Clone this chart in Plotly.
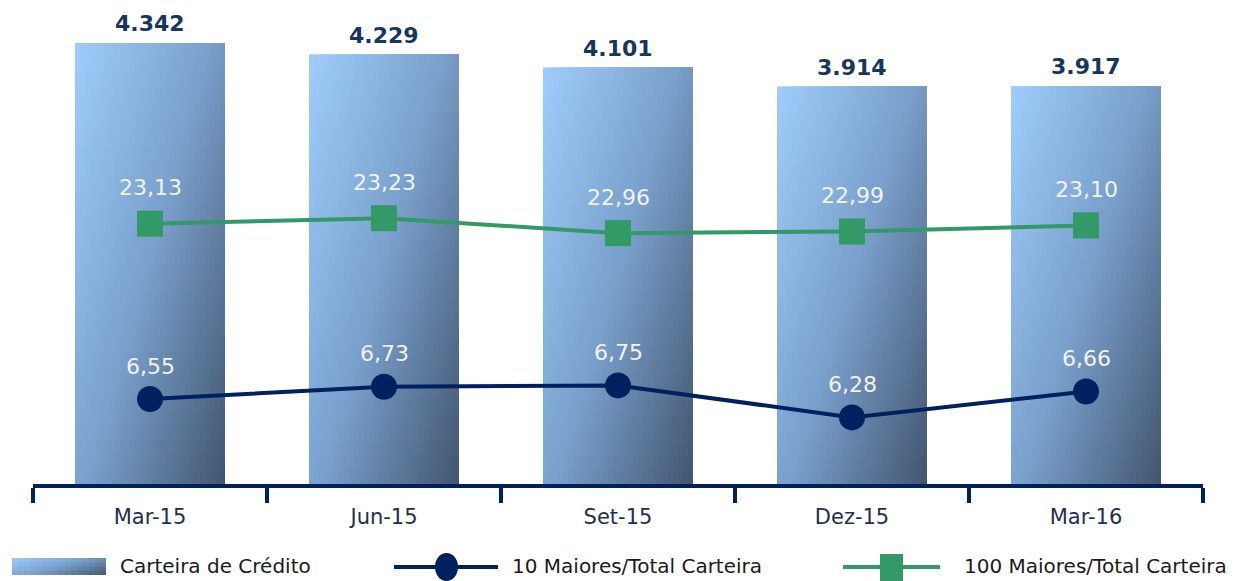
import plotly.graph_objects as go

# ---------------- data ----------------
categories = ["Mar-15", "Jun-15", "Set-15", "Dez-15", "Mar-16"]
carteira = [4342, 4229, 4101, 3914, 3917]
maiores10 = [6.55, 6.73, 6.75, 6.28, 6.66]
maiores100 = [23.13, 23.23, 22.96, 22.99, 23.10]
series_names = ["Carteira de Crédito", "10 Maiores/Total Carteira", "100 Maiores/Total Carteira"]

# ---------------- styles ----------------
W_PX, H_PX = 1236, 581
FONT = "DejaVu Sans"
NAVY = "#002060"
GREEN = "#339966"
LABEL_NAVY = "#17365D"
BAR_W = 0.641
NX, NY = 30, 30
STOPS = [(0.0, (0x9F, 0xCD, 0xFB)), (0.5, (0x79, 0x9F, 0xCB)), (1.0, (0x42, 0x55, 0x6F))]


def grad(u):
    u = max(0.0, min(1.0, u))
    for (u0, c0), (u1, c1) in zip(STOPS[:-1], STOPS[1:]):
        if u <= u1:
            t = (u - u0) / (u1 - u0)
            return "rgb(%d,%d,%d)" % tuple(round(a + (b - a) * t) for a, b in zip(c0, c1))
    return "rgb(%d,%d,%d)" % STOPS[-1][1]


def px_x(p):
    return p / W_PX


def px_y(p):
    return 1 - p / H_PX


fig = go.Figure()

# base bar trace (actual values)
fig.add_trace(go.Bar(
    x=categories, y=carteira, name=series_names[0], width=BAR_W,
    marker=dict(color="#799FCB", line=dict(width=0)), showlegend=False,
    hovertemplate="%{x}: %{y:,.0f}<extra></extra>",
))

# gradient overlay built from the same values: nested cells, each covering
# from its own left edge to the bar's right edge and from 0 to its own top,
# drawn so that later cells cover the earlier ones (no seams).
gx, gy, goff, gw, gc = [], [], [], [], []
for cat, v in zip(categories, carteira):
    for cx in range(NX):
        for cy in range(NY):  # cy = 0 is the top row (tallest cell)
            off = -BAR_W / 2 + cx * BAR_W / NX
            gx.append(cat)
            gy.append(v * (NY - cy) / NY)
            goff.append(off)
            gw.append(BAR_W / 2 - off)
            gc.append(grad(0.55 * (cx + 0.5) / NX + 0.45 * (cy + 0.5) / NY))
fig.add_trace(go.Bar(
    x=gx, y=gy, offset=goff, width=gw,
    marker=dict(color=gc, line=dict(width=0)),
    showlegend=False, hoverinfo="skip",
))

fig.add_trace(go.Scatter(
    x=categories, y=maiores100, yaxis="y2", mode="lines+markers", name=series_names[2],
    line=dict(color=GREEN, width=4), marker=dict(symbol="square", size=26, color=GREEN),
    showlegend=False,
))
fig.add_trace(go.Scatter(
    x=categories, y=maiores10, yaxis="y3", mode="lines+markers", name=series_names[1],
    line=dict(color=NAVY, width=4), marker=dict(symbol="circle", size=26, color=NAVY),
    showlegend=False,
))

annotations = []
for cat, v in zip(categories, carteira):
    annotations.append(dict(
        x=cat, y=v, xref="x", yref="y", text=f"{v:,}".replace(",", "."),
        showarrow=False, yanchor="bottom", yshift=5,
        font=dict(family=FONT, size=22, color=LABEL_NAVY, weight="bold"),
    ))
for cat, v in zip(categories, maiores100):
    annotations.append(dict(
        x=cat, y=v, xref="x", yref="y2", text=f"{v:.2f}".replace(".", ","),
        showarrow=False, yanchor="middle", yshift=36,
        font=dict(family=FONT, size=22, color="#F2F2F2"),
    ))
for cat, v in zip(categories, maiores10):
    annotations.append(dict(
        x=cat, y=v, xref="x", yref="y3", text=f"{v:.2f}".replace(".", ","),
        showarrow=False, yanchor="middle", yshift=33,
        font=dict(family=FONT, size=22, color="#F2F2F2"),
    ))

# ---------------- manual legend ----------------
shapes = []
LEG_Y = 567
sw_x0, sw_x1, sw_y0, sw_y1 = 12, 106, 558, 575
nsx, nsy = 16, 4
for i in range(nsx):
    for j in range(nsy):
        shapes.append(dict(
            type="rect", xref="paper", yref="paper", layer="above",
            x0=px_x(sw_x0 + (sw_x1 - sw_x0) * i / nsx), x1=px_x(sw_x1),
            y0=px_y(sw_y0 + (sw_y1 - sw_y0) * j / nsy), y1=px_y(sw_y1),
            fillcolor=grad(0.6 * (i + 0.5) / nsx + 0.4 * (j + 0.5) / nsy), line=dict(width=0),
        ))
# navy line swatch
shapes.append(dict(type="line", xref="paper", yref="paper", x0=px_x(394), x1=px_x(498),
                   y0=px_y(LEG_Y), y1=px_y(LEG_Y), line=dict(color=NAVY, width=4)))
shapes.append(dict(type="circle", xref="paper", yref="paper", x0=px_x(435), x1=px_x(458),
                   y0=px_y(581), y1=px_y(553), fillcolor=NAVY, line=dict(width=0)))
# green line swatch
shapes.append(dict(type="line", xref="paper", yref="paper", x0=px_x(843), x1=px_x(940),
                   y0=px_y(LEG_Y), y1=px_y(LEG_Y), line=dict(color=GREEN, width=4)))
shapes.append(dict(type="rect", xref="paper", yref="paper", x0=px_x(880), x1=px_x(903),
                   y0=px_y(581), y1=px_y(554), fillcolor=GREEN, line=dict(width=0)))

for name, xpx in zip(series_names, [118, 510, 962]):
    annotations.append(dict(
        x=px_x(xpx), y=px_y(566), xref="paper", yref="paper", text=name,
        showarrow=False, xanchor="left", yanchor="middle",
        font=dict(family=FONT, size=20, color="#1A1A1A"),
    ))

PLOT_BOTTOM = 484
fig.update_layout(
    width=W_PX, height=H_PX,
    margin=dict(l=0, r=0, t=0, b=0),
    paper_bgcolor="white", plot_bgcolor="white",
    separators=",.",
    barmode="overlay",
    font=dict(family=FONT),
    xaxis=dict(
        domain=[px_x(33), px_x(1203)], range=[-0.5, 4.5], type="category",
        showgrid=False, showline=True, linecolor=NAVY, linewidth=4,
        ticks="outside", tickson="boundaries", ticklen=15, tickwidth=4, tickcolor=NAVY,
        tickfont=dict(family=FONT, size=21, color="#1F2F4F"), ticklabelstandoff=11,
        zeroline=False,
    ),
    yaxis=dict(domain=[1 - PLOT_BOTTOM / H_PX, 1], range=[0, PLOT_BOTTOM / 0.1015],
               visible=False, showgrid=False, zeroline=False),
    yaxis2=dict(overlaying="y", range=[18.43, 27.17], visible=False, showgrid=False, zeroline=False),
    yaxis3=dict(overlaying="y", range=[5.30, 12.42], visible=False, showgrid=False, zeroline=False),
    annotations=annotations,
    shapes=shapes,
    showlegend=False,
)

fig.write_html("out.html", config={"displayModeBar": False},
               post_script="document.body.style.margin='0';")
